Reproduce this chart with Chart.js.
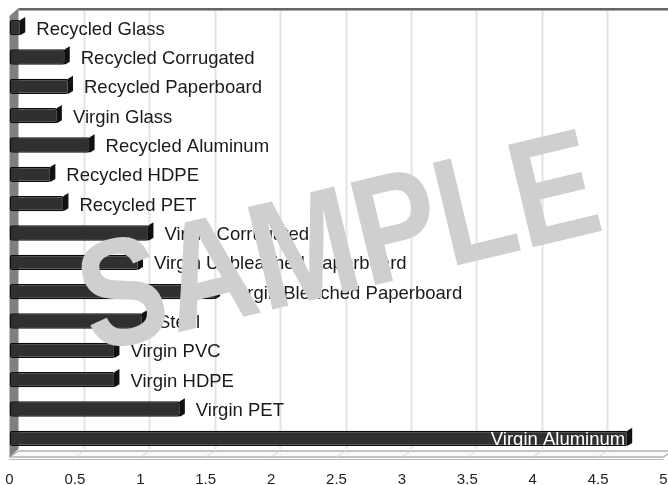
<!DOCTYPE html>
<html>
<head>
<meta charset="utf-8">
<script src="https://cdn.jsdelivr.net/npm/chart.js@4"></script>
<style>
  html, body { margin: 0; padding: 0; background: #fff; }
  #wrap { width: 668px; height: 485px; }
</style>
</head>
<body>
<div id="wrap"><canvas id="chart" width="668" height="485"></canvas></div>
<script>
const materials = [
  "Recycled Glass", "Recycled Corrugated", "Recycled Paperboard", "Virgin Glass",
  "Recycled Aluminum", "Recycled HDPE", "Recycled PET", "Virgin Corrugated",
  "Virgin Unbleached Paperboard", "Virgin Bleached Paperboard", "Steel",
  "Virgin PVC", "Virgin HDPE", "Virgin PET", "Virgin Aluminum",
];
const values = [0.09, 0.43, 0.455, 0.37, 0.62, 0.32, 0.42, 1.07, 0.99, 1.58, 1.02, 0.81, 0.81, 1.31, 4.73];
const xMin = 0;
const xMax = 5;
const xStep = 0.5;

const DEPTH_X = 9;
const DEPTH_Y = -6;
const LABEL_FONT = "18.5px 'Liberation Sans', Arial, sans-serif";

// back wall, left wall, gridlines and floor
const wallPlugin = {
  id: "wall",
  beforeDatasetsDraw(chart) {
    const { ctx, chartArea: a, scales: { x } } = chart;
    ctx.save();
    // gridlines on the back plane
    ctx.strokeStyle = "#e4e4e4";
    ctx.lineWidth = 2;
    for (let v = xMin + xStep; v <= xMax; v += xStep) {
      const px = Math.round(x.getPixelForValue(v) + DEPTH_X) + 0.5;
      ctx.beginPath();
      ctx.moveTo(px, a.top - 3);
      ctx.lineTo(px, a.bottom + DEPTH_Y + 2);
      ctx.stroke();
    }
    // top border
    ctx.fillStyle = "#666";
    ctx.fillRect(a.left + DEPTH_X, a.top - 5, a.right - a.left + 10, 2);
    ctx.fillStyle = "#aaa";
    ctx.fillRect(a.left + DEPTH_X, a.top - 3, a.right - a.left + 10, 1);
    // left wall
    ctx.fillStyle = "#808080";
    ctx.beginPath();
    ctx.moveTo(a.left, a.top + 3);
    ctx.lineTo(a.left + DEPTH_X, a.top - 5);
    ctx.lineTo(a.left + DEPTH_X, a.bottom + DEPTH_Y + 2);
    ctx.lineTo(a.left, a.bottom + 4);
    ctx.closePath();
    ctx.fill();
    // floor
    const fb = a.bottom + 4;
    ctx.fillStyle = "#fafafa";
    ctx.strokeStyle = "#8a8a8a";
    ctx.lineWidth = 1;
    ctx.beginPath();
    ctx.moveTo(a.left, fb);
    ctx.lineTo(a.left + DEPTH_X, fb + DEPTH_Y);
    ctx.lineTo(a.right + DEPTH_X, fb + DEPTH_Y);
    ctx.lineTo(a.right, fb);
    ctx.closePath();
    ctx.fill();
    ctx.stroke();
    ctx.strokeStyle = "#bbb";
    ctx.beginPath();
    ctx.moveTo(a.left, fb + 2.5);
    ctx.lineTo(a.right, fb + 2.5);
    ctx.stroke();
    ctx.strokeStyle = "#d8d8d8";
    for (let v = xMin + xStep; v < xMax; v += xStep) {
      const px = x.getPixelForValue(v);
      ctx.beginPath();
      ctx.moveTo(px, fb);
      ctx.lineTo(px + DEPTH_X, fb + DEPTH_Y);
      ctx.stroke();
    }
    ctx.restore();
  },
  afterDatasetsDraw(chart) {
    const { ctx } = chart;
    const meta = chart.getDatasetMeta(0);
    ctx.save();
    meta.data.forEach((bar, i) => {
      const top = bar.y - bar.height / 2;
      const bottom = bar.y + bar.height / 2;
      // right cap
      ctx.fillStyle = "#111";
      ctx.beginPath();
      ctx.moveTo(bar.x - 1, top);
      ctx.lineTo(bar.x + 4, top - 3);
      ctx.lineTo(bar.x + 4, bottom - 3);
      ctx.lineTo(bar.x - 1, bottom);
      ctx.closePath();
      ctx.fill();
      // label
      ctx.font = LABEL_FONT;
      ctx.textBaseline = "middle";
      if (i === values.length - 1) {
        ctx.fillStyle = "#fff";
        ctx.textAlign = "right";
        ctx.fillText(materials[i], bar.x - 3, bar.y + 2);
      } else {
        ctx.fillStyle = "#1a1a1a";
        ctx.textAlign = "left";
        ctx.fillText(materials[i], bar.x + 15, bar.y + 2);
      }
    });
    ctx.restore();
  },
  afterDraw(chart) {
    const { ctx } = chart;
    ctx.save();
    ctx.translate(340, 250);
    ctx.rotate(-13.5 * Math.PI / 180);
    ctx.scale(0.96, 1.16);
    ctx.font = "bold 132px 'Liberation Sans', Arial, sans-serif";
    ctx.fillStyle = "#cfcfcf";
    ctx.textAlign = "center";
    ctx.textBaseline = "middle";
    ctx.fillText("SAMPLE", 0, 0);
    ctx.restore();
  },
};

new Chart(document.getElementById("chart"), {
  type: "bar",
  data: {
    labels: materials,
    datasets: [{
      data: values,
      backgroundColor: "#303030",
      borderColor: "#0d0d0d",
      borderWidth: 1.5,
      borderSkipped: false,
      borderRadius: 3,
      barPercentage: 0.52,
      categoryPercentage: 1,
    }],
  },
  options: {
    indexAxis: "y",
    responsive: false,
    animation: false,
    layout: { padding: { left: 9.5, right: 4.5, top: 13, bottom: 0 } },
    plugins: { legend: { display: false }, tooltip: { enabled: false } },
    scales: {
      x: {
        min: xMin,
        max: xMax,
        grid: { display: false, drawTicks: false },
        border: { display: false },
        ticks: {
          stepSize: xStep,
          padding: 18,
          color: "#222",
          font: { family: "'Liberation Sans', Arial, sans-serif", size: 15 },
          maxRotation: 0,
          callback: (v) => String(Number(v)),
        },
        afterFit: (s) => {
          s.height = 32;
          s.paddingLeft = 0;
          s.paddingRight = 0;
        },
      },
      y: {
        display: false,
        grid: { display: false },
      },
    },
  },
  plugins: [wallPlugin],
});
</script>
</body>
</html>
